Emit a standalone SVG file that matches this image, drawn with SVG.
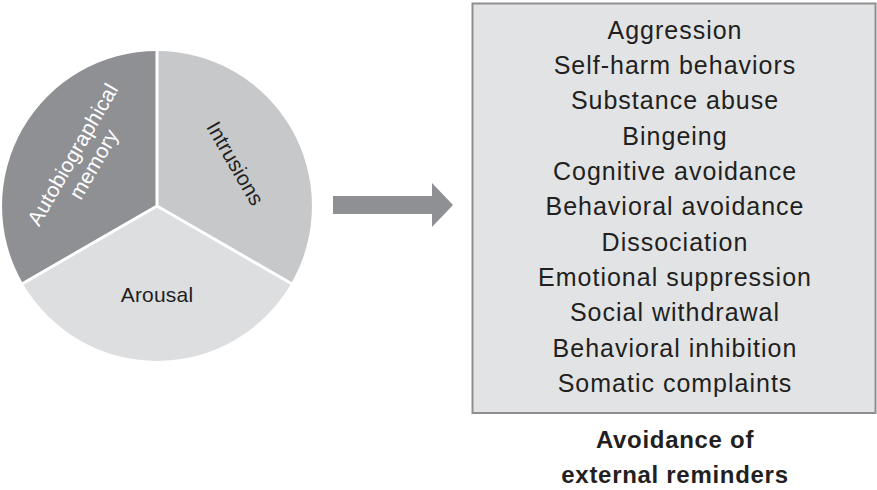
<svg xmlns="http://www.w3.org/2000/svg" width="877" height="490" viewBox="0 0 877 490">
<style>
.t{font-family:"Liberation Sans",Arial,Helvetica,sans-serif;fill:#231f20;text-anchor:middle}
.list{font-size:25px;letter-spacing:1px}
.pie{font-size:21px;letter-spacing:0.2px}
.bold{font-size:24px;font-weight:bold;letter-spacing:0.7px}
.sep{stroke:#ffffff;stroke-width:3;fill:none}
</style>
<rect width="877" height="490" fill="#ffffff"/>
<g id="pie">
  <path d="M157,206 L157,51 A155,155 0 0 1 291.2,283.5 Z" fill="#c7c8ca"/>
  <path d="M157,206 L291.2,283.5 A155,155 0 0 1 22.8,283.5 Z" fill="#dddee0"/>
  <path d="M157,206 L22.8,283.5 A155,155 0 0 1 157,51 Z" fill="#8f9094"/>
  <path class="sep" d="M157,206 L157,49 M157,206 L293,284.5 M157,206 L21,284.5"/>
</g>
<g id="autobiographical-memory" transform="translate(79,158) rotate(-60)">
  <text class="t pie" x="0" y="0" style="fill:#ffffff">Autobiographical</text>
  <text class="t pie" x="2" y="23" style="fill:#ffffff">memory</text>
</g>
<g id="intrusions" transform="translate(229,167) rotate(60)">
  <text class="t pie" x="0" y="0">Intrusions</text>
</g>
<g id="arousal">
  <text class="t pie" x="157" y="301.5">Arousal</text>
</g>
<g id="connectors">
  <path d="M333,196 L432,196 L432,183 L453,205 L432,227 L432,214 L333,214 Z" fill="#8f9094"/>
</g>
<g id="avoidance-box">
  <rect x="472.5" y="3.5" width="403" height="409.5" fill="#e2e3e5" stroke="#8f8f91" stroke-width="2"/>
  <text class="t list" x="675" y="38.5">Aggression</text>
  <text class="t list" x="675" y="73.8">Self-harm behaviors</text>
  <text class="t list" x="675" y="109.2">Substance abuse</text>
  <text class="t list" x="675" y="144.5">Bingeing</text>
  <text class="t list" x="675" y="179.9">Cognitive avoidance</text>
  <text class="t list" x="675" y="215.2">Behavioral avoidance</text>
  <text class="t list" x="675" y="250.5">Dissociation</text>
  <text class="t list" x="675" y="285.9">Emotional suppression</text>
  <text class="t list" x="675" y="321.2">Social withdrawal</text>
  <text class="t list" x="675" y="356.6">Behavioral inhibition</text>
  <text class="t list" x="675" y="391.9">Somatic complaints</text>
</g>
<g id="avoidance-label">
  <text class="t bold" x="675" y="448">Avoidance of</text>
  <text class="t bold" x="675" y="483">external reminders</text>
</g>
</svg>
